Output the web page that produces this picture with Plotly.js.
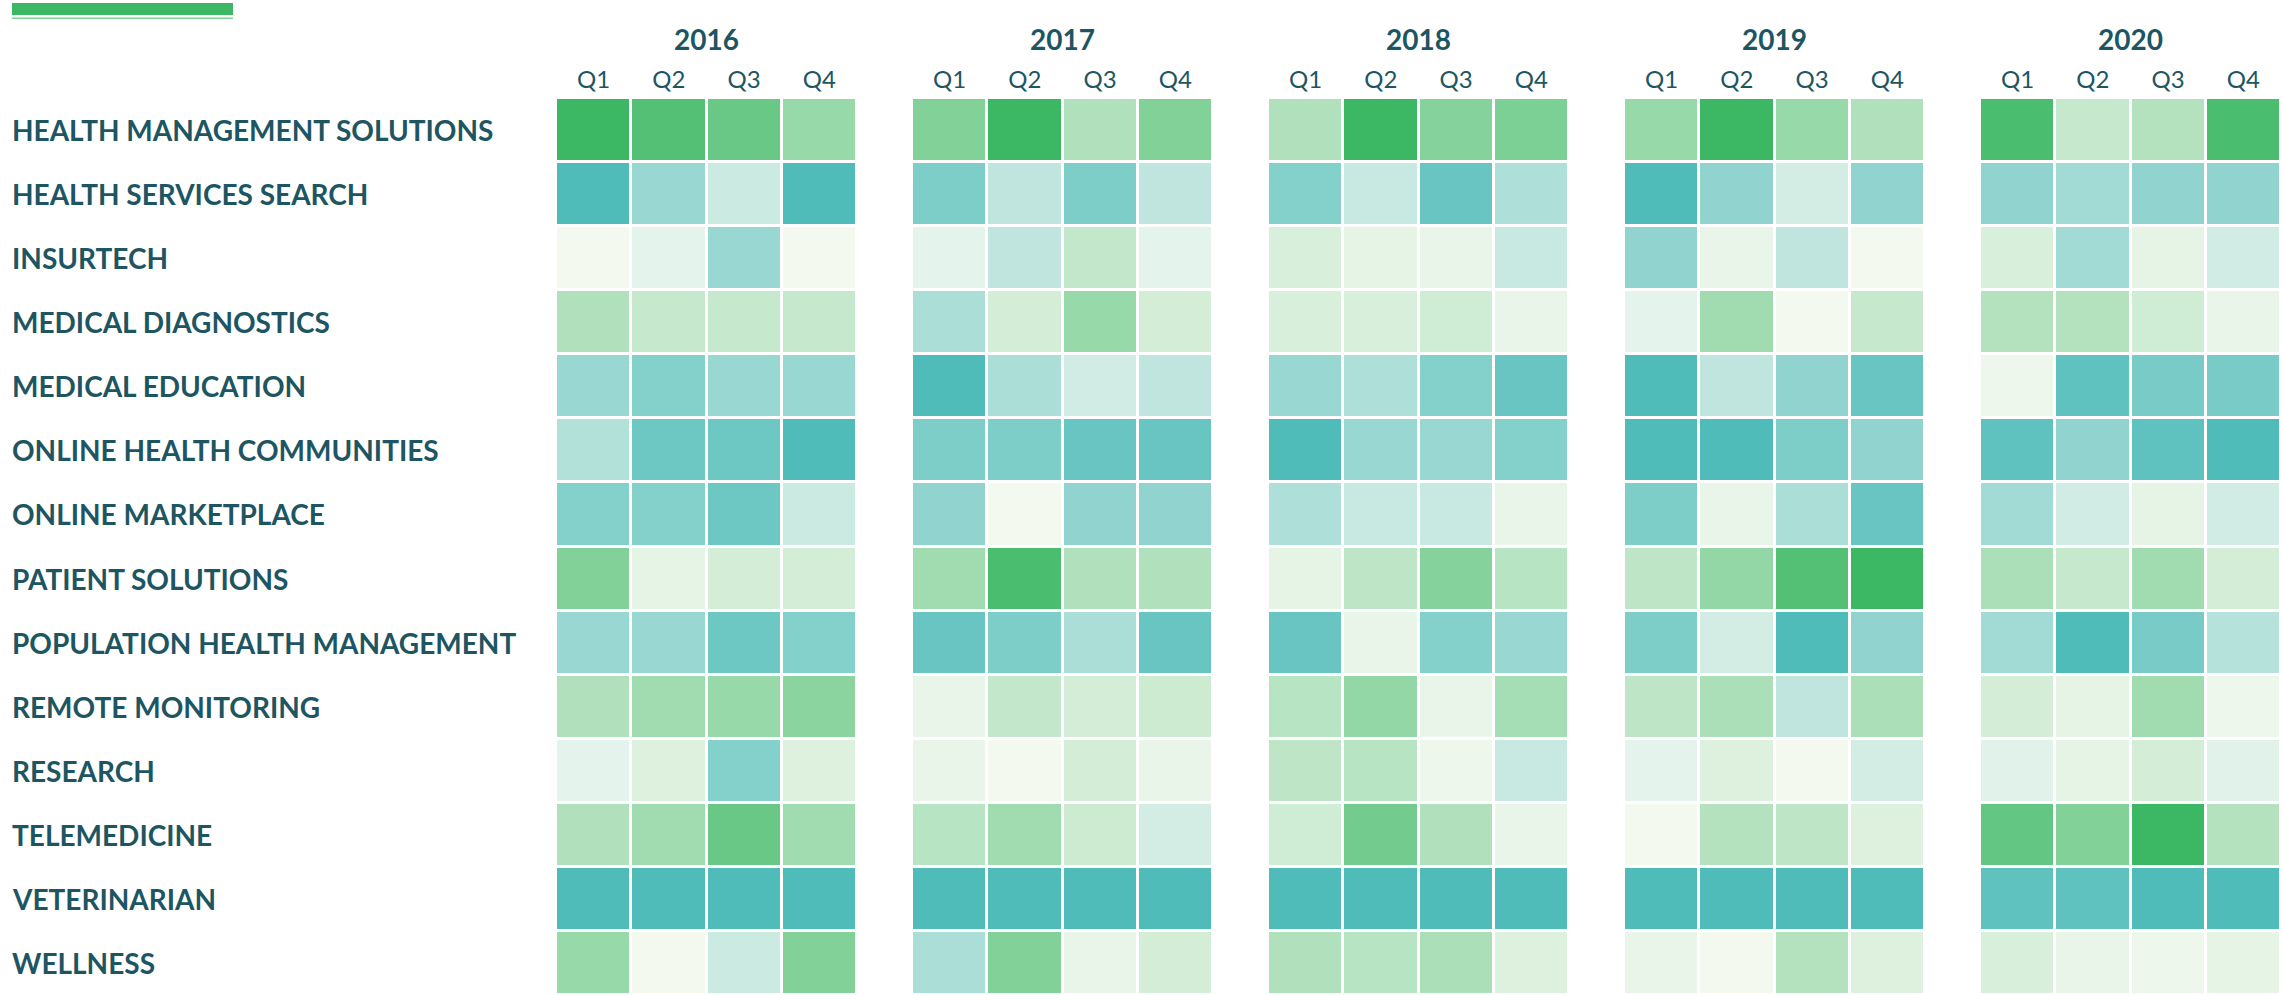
<!DOCTYPE html>
<html>
<head>
<meta charset="utf-8">
<script src="https://cdn.plot.ly/plotly-3.0.1.min.js"></script>
<style>
  html, body { margin: 0; padding: 0; background: #ffffff; }
  #chart { width: 2284px; height: 995px; }
</style>
</head>
<body>
<div id="chart"></div>
<script>
// ---- Data ----
var categories = [
  "HEALTH MANAGEMENT SOLUTIONS",
  "HEALTH SERVICES SEARCH",
  "INSURTECH",
  "MEDICAL DIAGNOSTICS",
  "MEDICAL EDUCATION",
  "ONLINE HEALTH COMMUNITIES",
  "ONLINE MARKETPLACE",
  "PATIENT SOLUTIONS",
  "POPULATION HEALTH MANAGEMENT",
  "REMOTE MONITORING",
  "RESEARCH",
  "TELEMEDICINE",
  "VETERINARIAN",
  "WELLNESS"
];
var quarters = ["Q1", "Q2", "Q3", "Q4"];
var years = ["2016", "2017", "2018", "2019", "2020"];

// values: -1 (teal) ... 0 (neutral) ... +1 (green); one row per category, one column per quarter
var v2016 = [
  [1.0, 0.87, 0.75, 0.5],
  [-1, -0.55, -0.25, -1],
  [0, -0.1, -0.55, 0],
  [0.37, 0.25, 0.25, 0.25],
  [-0.55, -0.68, -0.55, -0.55],
  [-0.4, -0.82, -0.82, -1],
  [-0.68, -0.68, -0.82, -0.25],
  [0.62, 0.08, 0.18, 0.18],
  [-0.55, -0.55, -0.82, -0.68],
  [0.37, 0.45, 0.5, 0.57],
  [-0.1, 0.12, -0.68, 0.12],
  [0.37, 0.45, 0.75, 0.45],
  [-1, -1, -1, -1],
  [0.5, 0, -0.25, 0.62]
];
var v2017 = [
  [0.62, 1.0, 0.37, 0.62],
  [-0.72, -0.32, -0.72, -0.32],
  [-0.1, -0.32, 0.27, -0.1],
  [-0.45, 0.18, 0.5, 0.18],
  [-1, -0.45, -0.22, -0.32],
  [-0.72, -0.72, -0.85, -0.85],
  [-0.6, 0, -0.6, -0.6],
  [0.45, 0.92, 0.37, 0.37],
  [-0.85, -0.72, -0.45, -0.85],
  [0.06, 0.27, 0.18, 0.22],
  [0.06, 0, 0.18, 0.06],
  [0.33, 0.45, 0.22, -0.2],
  [-1, -1, -1, -1],
  [-0.45, 0.62, 0.06, 0.18]
];
var v2018 = [
  [0.37, 1.0, 0.6, 0.65],
  [-0.68, -0.27, -0.85, -0.42],
  [0.15, 0.08, 0.06, -0.27],
  [0.15, 0.15, 0.2, 0.06],
  [-0.55, -0.42, -0.68, -0.85],
  [-1, -0.55, -0.55, -0.68],
  [-0.42, -0.27, -0.27, 0.06],
  [0.08, 0.3, 0.6, 0.33],
  [-0.85, 0.06, -0.68, -0.55],
  [0.33, 0.52, 0.06, 0.43],
  [0.3, 0.33, 0.03, -0.27],
  [0.2, 0.7, 0.37, 0.06],
  [-1, -1, -1, -1],
  [0.37, 0.33, 0.4, 0.12]
];
var v2019 = [
  [0.5, 1.0, 0.5, 0.37],
  [-1, -0.6, -0.2, -0.6],
  [-0.6, 0.06, -0.32, 0],
  [-0.1, 0.45, 0, 0.25],
  [-1, -0.32, -0.6, -0.85],
  [-1, -1, -0.72, -0.6],
  [-0.72, 0.06, -0.45, -0.85],
  [0.3, 0.52, 0.87, 1.0],
  [-0.72, -0.2, -1, -0.6],
  [0.3, 0.4, -0.32, 0.4],
  [-0.1, 0.12, 0, -0.2],
  [0, 0.35, 0.3, 0.12],
  [-1, -1, -1, -1],
  [0.06, 0, 0.35, 0.12]
];
var v2020 = [
  [0.92, 0.25, 0.35, 0.92],
  [-0.6, -0.5, -0.6, -0.6],
  [0.15, -0.5, 0.08, -0.22],
  [0.35, 0.35, 0.2, 0.06],
  [0.03, -0.9, -0.75, -0.75],
  [-0.9, -0.6, -0.9, -1],
  [-0.5, -0.22, 0.08, -0.22],
  [0.4, 0.25, 0.45, 0.18],
  [-0.5, -1, -0.75, -0.38],
  [0.18, 0.08, 0.45, 0.03],
  [-0.12, 0.08, 0.18, -0.12],
  [0.78, 0.62, 1.0, 0.35],
  [-0.9, -0.9, -1, -1],
  [0.15, 0.06, 0.03, 0.08]
];
var yearValues = [v2016, v2017, v2018, v2019, v2020];

// ---- Styling ----
var TEXT = "#1d5662";
var FONT = "Lato, 'Open Sans', sans-serif";
var colorscale = [[0, "#4fbcb9"], [0.5, "#f4f9f0"], [1, "#3cb864"]];

var W = 2284, H = 995;
var M = {l: 556, r: 3, t: 98, b: 0};
var plotW = W - M.l - M.r;
var plotH = H - M.t - M.b;
var pitch = 356, panelW = 301;

var traces = [];
var layout = {
  width: W, height: H,
  margin: M,
  paper_bgcolor: "#ffffff",
  plot_bgcolor: "#ffffff",
  showlegend: false,
  font: {family: FONT, color: TEXT},
  yaxis: {
    type: "category",
    autorange: "reversed",
    showticklabels: false,
    showgrid: false, zeroline: false, showline: false, ticks: "",
    fixedrange: true
  },
  annotations: [],
  shapes: []
};

years.forEach(function (yr, i) {
  var axSuffix = i === 0 ? "" : String(i + 1);
  traces.push({
    type: "heatmap",
    x: quarters,
    y: categories,
    z: yearValues[i],
    xaxis: "x" + axSuffix,
    yaxis: "y",
    zmin: -1, zmax: 1,
    colorscale: colorscale,
    showscale: false,
    xgap: 3, ygap: 3,
    hovertemplate: yr + " %{x}<br>%{y}: %{z}<extra></extra>"
  });
  var d0 = (i * pitch) / plotW;
  var d1 = Math.min(1, (i * pitch + panelW) / plotW);
  layout["xaxis" + axSuffix] = {
    domain: [d0, d1],
    anchor: "y",
    side: "top",
    type: "category",
    showgrid: false, zeroline: false, showline: false, ticks: "",
    tickfont: {family: FONT, size: 24, color: TEXT},
    ticklabelstandoff: 4,
    title: {text: yr, font: {family: FONT, size: 28, color: TEXT, weight: "bold"}, standoff: 5},
    fixedrange: true
  };
});

categories.forEach(function (c) {
  layout.annotations.push({
    xref: "paper", yref: "y",
    x: (10 - M.l) / plotW, y: c,
    xanchor: "left", yanchor: "middle",
    text: c, showarrow: false,
    font: {family: FONT, size: 28, color: TEXT, weight: "bold"}
  });
});

function px2x(p) { return (p - M.l) / plotW; }
function px2y(p) { return (H - M.b - p) / plotH; }
layout.shapes.push({
  type: "rect", xref: "paper", yref: "paper", layer: "above",
  x0: px2x(12), x1: px2x(233), y0: px2y(15), y1: px2y(3),
  fillcolor: "#3cb864", line: {width: 0}
});
layout.shapes.push({
  type: "rect", xref: "paper", yref: "paper", layer: "above",
  x0: px2x(12), x1: px2x(233), y0: px2y(19), y1: px2y(17.5),
  fillcolor: "#7ed494", line: {width: 0}
});

Plotly.newPlot("chart", traces, layout, {displayModeBar: false, staticPlot: true});
</script>
</body>
</html>
